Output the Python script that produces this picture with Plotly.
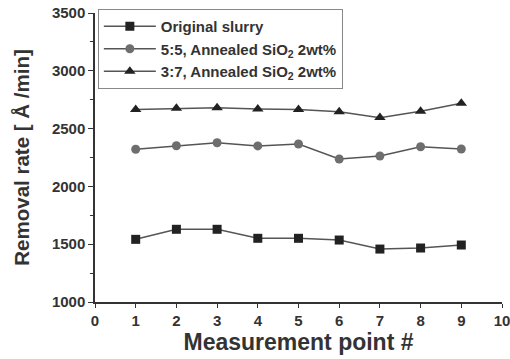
import plotly.graph_objects as go

points = [1, 2, 3, 4, 5, 6, 7, 8, 9]
original = [1542, 1629, 1629, 1551, 1551, 1536, 1458, 1467, 1493]
ann55 = [2321, 2352, 2378, 2350, 2367, 2237, 2263, 2343, 2324]
ann37 = [2665, 2675, 2680, 2670, 2665, 2645, 2595, 2650, 2720]

names = ["Original slurry", "5:5, Annealed SiO<sub>2</sub> 2wt%", "3:7, Annealed SiO<sub>2</sub> 2wt%"]

fig = go.Figure()
fig.add_trace(go.Scatter(x=points, y=original, name=names[0], mode="lines+markers",
                         line=dict(color="#555555", width=1.5),
                         marker=dict(symbol="square", size=9, color="#222222")))
fig.add_trace(go.Scatter(x=points, y=ann55, name=names[1], mode="lines+markers",
                         line=dict(color="#555555", width=1.5),
                         marker=dict(symbol="circle", size=9, color="#6e6e6e")))
fig.add_trace(go.Scatter(x=points, y=ann37, name=names[2], mode="lines+markers",
                         line=dict(color="#555555", width=1.5),
                         marker=dict(symbol="triangle-up", size=10, color="#222222")))

font_family = "Liberation Sans, Arial, sans-serif"
tickfont = dict(size=15, family=font_family, color="#333333", weight="bold")
fig.update_layout(
    width=510, height=359,
    margin=dict(l=95, r=8, t=13, b=57, autoexpand=False),
    paper_bgcolor="white", plot_bgcolor="white",
    font=dict(family=font_family, color="#222222"),
    showlegend=True,
    legend=dict(x=0.007, y=1.014, xanchor="left", yanchor="top",
                bordercolor="#888888", borderwidth=1, bgcolor="white",
                font=dict(size=15, family=font_family, color="#333333", weight="bold"),
                tracegroupgap=0, itemwidth=52),
    xaxis=dict(range=[0, 10], tickmode="linear", tick0=0, dtick=1,
               automargin=False, ticklabeloverflow="allow",
               showline=True, linecolor="#333333", linewidth=1.5,
               ticks="outside", ticklen=4, tickcolor="#333333",
               showgrid=False, zeroline=False,
               tickfont=tickfont,
               title=dict(text="Measurement point #", standoff=4,
                          font=dict(size=23, family=font_family, color="#333333", weight="bold"))),
    yaxis=dict(range=[1000, 3500], tickmode="linear", tick0=1000, dtick=500,
               automargin=False, ticklabeloverflow="allow",
               showline=True, linecolor="#333333", linewidth=1.5,
               ticks="outside", ticklen=5, tickcolor="#333333",
               minor=dict(dtick=250, ticks="outside", ticklen=3, tickcolor="#333333"),
               showgrid=False, zeroline=False,
               tickfont=tickfont,
               title=dict(text="Removal rate [ Å /min]", standoff=17,
                          font=dict(size=20.5, family=font_family, color="#333333", weight="bold"))),
)
# remove the browser's default 8px body margin so the figure fills the window exactly
fig.write_html("out.html", config={"displayModeBar": False},
               post_script="document.body.style.margin='0';")
